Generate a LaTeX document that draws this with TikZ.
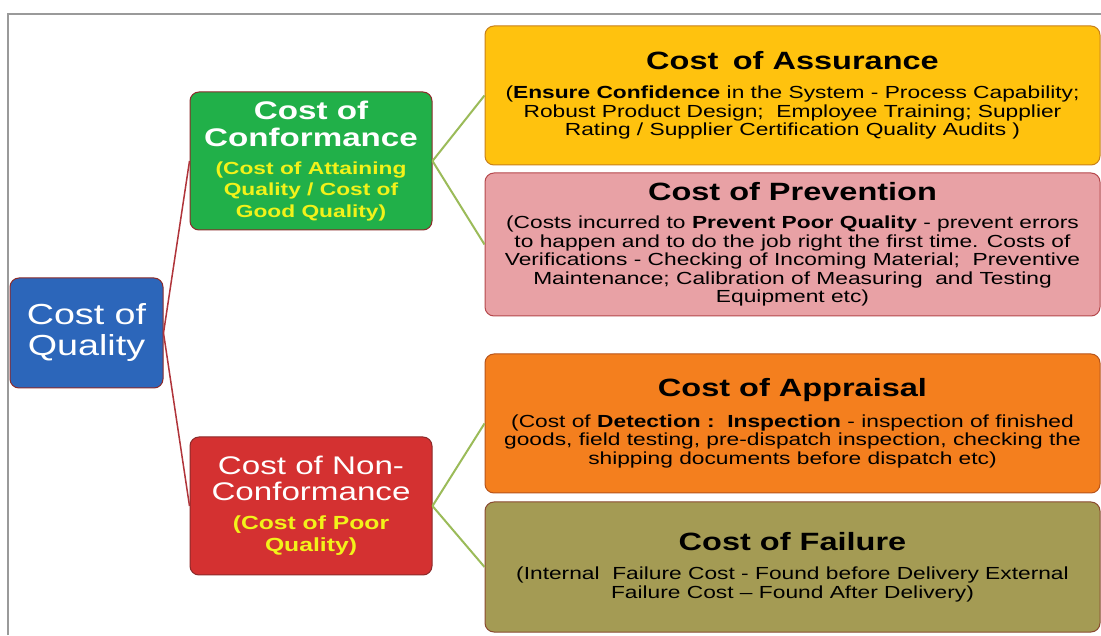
\documentclass[tikz,border=0pt]{standalone}
\usepackage{fontspec}
\setmainfont{Liberation Sans}
\usepackage{graphicx}
\definecolor{qfill}{HTML}{2C66BA}
\definecolor{cffill}{HTML}{21B049}
\definecolor{ncfill}{HTML}{D43131}
\definecolor{asfill}{HTML}{FFC20E}
\definecolor{prfill}{HTML}{E8A1A5}
\definecolor{apfill}{HTML}{F47F1E}
\definecolor{fafill}{HTML}{A49B54}
\definecolor{darkred}{HTML}{8C2A2A}
\definecolor{asdraw}{HTML}{C8801A}
\definecolor{prdraw}{HTML}{B5484C}
\definecolor{apdraw}{HTML}{B8541A}
\definecolor{fadraw}{HTML}{8A4A30}
\definecolor{redline}{HTML}{B0343A}
\definecolor{greenline}{HTML}{9BBB59}
\definecolor{ylw}{HTML}{F2F21A}
\definecolor{framegray}{HTML}{9A9A9A}
\newcommand{\wide}[2]{\scalebox{1.3}[1]{\parbox{#1}{\centering #2}}}
\newcommand{\ttl}{\fontsize{25}{28}\selectfont\bfseries}
\newcommand{\bdy}{\fontsize{17.5}{18.5}\selectfont\mdseries}
\tikzset{
  box/.style={rounded corners=9pt, line width=1pt, inner sep=0pt, align=center},
  redconn/.style={draw=redline, line width=1.5pt},
  greenconn/.style={draw=greenline, line width=2pt},
  frameline/.style={draw=framegray, line width=2.5pt}
}
\begin{document}
\begin{tikzpicture}[x=1pt,y=1pt]
\useasboundingbox (0,0) rectangle (1101,635);
\fill[white] (0,0) rectangle (1101,635);
\draw[frameline] (8,0) -- (8,621) -- (1101,621);

% left root
\node[box, fill=qfill, draw=darkred, minimum width=153pt, minimum height=110pt, text=white] (q) at (86.5,302)
  {\wide{110pt}{\fontsize{29}{31}\selectfont Cost of\\Quality}};

% level 2
\node[box, fill=cffill, draw=darkred, minimum width=242pt, minimum height=138pt] (cf) at (311,474)
  {\wide{180pt}{\color{white}\fontsize{25.5}{27}\selectfont\bfseries Cost of\\Conformance\par\vspace{6pt}
   \color{ylw}\fontsize{17.5}{21.5}\selectfont (Cost of Attaining\\Quality / Cost of\\Good Quality)}};

\node[box, fill=ncfill, draw=darkred, minimum width=242pt, minimum height=138pt] (nc) at (311,129)
  {\wide{180pt}{\color{white}\fontsize{25.5}{26}\selectfont Cost of Non-\\Conformance\par\vspace{7pt}
   \color{ylw}\fontsize{19}{22}\selectfont\bfseries (Cost of Poor\\Quality)}};

% level 3
\node[box, fill=asfill, draw=asdraw, minimum width=615pt, minimum height=139pt] (as) at (792.5,539.5)
  {\wide{470pt}{\ttl Cost\,\ of Assurance\par\vspace{11pt}
   \bdy (\textbf{Ensure Confidence} in the System - Process Capability;\\
   Robust Product Design;\ \ Employee Training; Supplier\\
   Rating / Supplier Certification Quality Audits )}};

\node[box, fill=prfill, draw=prdraw, minimum width=615pt, minimum height=143pt] (pr) at (792.5,390.5)
  {\wide{470pt}{\ttl Cost of Prevention\par\vspace{10pt}
   \bdy (Costs incurred to \textbf{Prevent Poor Quality} - prevent errors\\
   to happen and to do the job right the first time. Costs of\\
   Verifications - Checking of Incoming Material;\ \ Preventive\\
   Maintenance; Calibration of Measuring\ \ and Testing\\
   Equipment etc)}};

\node[box, fill=apfill, draw=apdraw, minimum width=615pt, minimum height=139pt] (ap) at (792.5,211.5)
  {\wide{470pt}{\ttl Cost of Appraisal\par\vspace{12pt}
   \bdy (Cost of \textbf{Detection :\ \ Inspection} - inspection of finished\\
   goods, field testing, pre-dispatch inspection, checking the\\
   shipping documents before dispatch etc)}};

\node[box, fill=fafill, draw=fadraw, minimum width=615pt, minimum height=130pt] (fa) at (792.5,68)
  {\wide{470pt}{\ttl Cost of Failure\par\vspace{11pt}
   \bdy (Internal\ \ Failure Cost - Found before Delivery External\\
   Failure Cost -- Found After Delivery)}};

% connectors
\draw[redconn] (q.east) -- (cf.west);
\draw[redconn] (q.east) -- (nc.west);
\draw[greenconn] (cf.east) -- (as.west);
\draw[greenconn] (cf.east) -- (pr.west);
\draw[greenconn] (nc.east) -- (ap.west);
\draw[greenconn] (nc.east) -- (fa.west);
\end{tikzpicture}
\end{document}
